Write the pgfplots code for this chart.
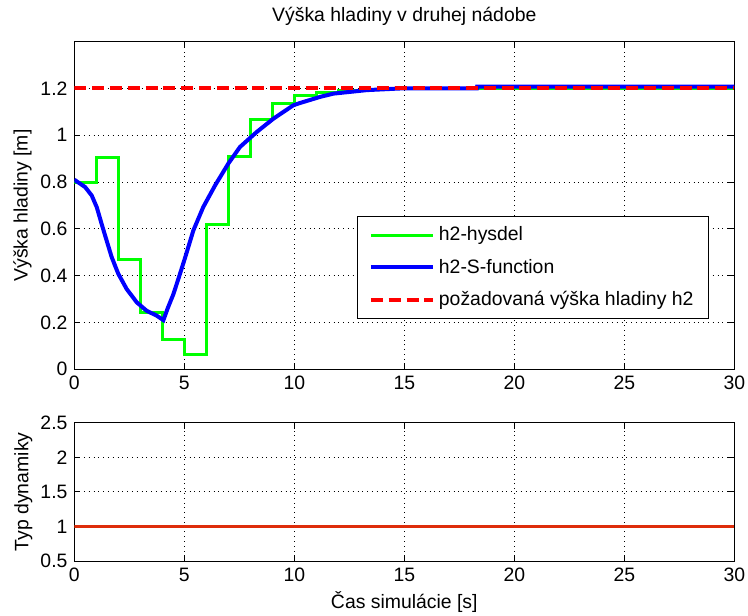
\documentclass[border=0pt]{standalone}
\usepackage{pgfplots}
\pgfplotsset{compat=1.18}
\usepackage{fontspec}
\setmainfont{Liberation Sans}
\definecolor{mgreen}{RGB}{0,255,0}
\definecolor{mblue}{RGB}{0,0,255}
\definecolor{mred}{RGB}{255,0,0}
\definecolor{morange}{RGB}{222,45,10}
\pgfplotsset{
  mystyle/.style={
    scale only axis,
    width=330pt,
    xmin=0, xmax=30,
    xtick={0,5,10,15,20,25,30},
    tick align=inside,
    major tick length=3pt,
    grid=major,
    major grid style={black, dotted, line width=0.5pt},
    axis line style={black, line width=0.5pt},
    every tick/.style={black, line width=0.5pt},
    /pgf/number format/assume math mode=true,
    tick label style={font=\fontsize{9.7}{11.6}\selectfont},
    label style={font=\fontsize{9.7}{11.6}\selectfont},
  }
}
\begin{document}
\fontsize{9.7}{11.6}\selectfont
\begin{tikzpicture}
\path[use as bounding box] (0pt,0pt) rectangle (374pt,307.5pt);
\begin{axis}[
  mystyle,
  at={(37.15pt,122.85pt)}, anchor=south west,
  height=163.8pt,
  ymin=0, ymax=1.4,
  ytick={0,0.2,0.4,0.6,0.8,1,1.2},
  yticklabels={0,0.2,0.4,0.6,0.8,1,1.2},
  xticklabels={0,5,10,15,20,25,30},
  title={Výška hladiny v druhej nádobe},
  title style={at={(axis description cs:0.5,1)}, anchor=center, yshift=6.9pt, font=\fontsize{9.7}{11.6}\selectfont},
  ylabel={Výška hladiny [m]},
  ylabel style={at={(axis description cs:-0.0785,0.5)}, anchor=center, rotate=0},
  legend style={at={(axis description cs:0.429,0.467)}, anchor=north west,
    draw=black, line width=0.5pt, fill=white,
    font=\fontsize{9.7}{11.6}\selectfont,
    inner xsep=5.5pt, inner ysep=3pt, row sep=3.6pt},
  legend cell align=left,
  legend image code/.code={\draw[#1] (0pt,0pt) -- (31pt,0pt);},
]
\addplot[mgreen, line width=1.5pt, const plot] coordinates {
(0,0.800) (1,0.903) (2,0.469) (3,0.243) (4,0.126) (5,0.065) (6,0.617)
(7,0.911) (8,1.067) (9,1.138) (10,1.168) (11,1.183) (12,1.190) (13,1.195)
(14,1.199) (15,1.201) (16,1.201) (17,1.201) (18,1.201) (19,1.201) (20,1.201)
(21,1.201) (22,1.201) (23,1.201) (24,1.201) (25,1.201) (26,1.201) (27,1.201)
(28,1.201) (29,1.201) (30,1.201)};
\addlegendentry{h2-hysdel}
\addplot[mblue, line width=2pt] coordinates {
(0,0.810) (0.49,0.779) (0.79,0.743) (1.02,0.693) (1.24,0.622) (1.47,0.550)
(1.70,0.479) (2.00,0.408) (2.38,0.343) (2.84,0.286) (3.29,0.250) (3.75,0.229)
(4.05,0.210) (4.25,0.262) (4.50,0.320) (4.75,0.392) (5.03,0.475) (5.41,0.593)
(5.86,0.693) (6.40,0.786) (7.00,0.879) (7.53,0.950) (8.29,1.014) (9.05,1.071)
(9.95,1.128) (10.26,1.138) (11.17,1.164) (11.77,1.178) (13.29,1.193) (14.80,1.200)
(18.30,1.201) (18.31,1.208) (30,1.208)};
\addlegendentry{h2-S-function}
\addplot[mred, line width=2pt, dash pattern=on 6pt off 2.9pt] coordinates {(0,1.2) (30,1.2)};
\addlegendentry{požadovaná výška hladiny h2}
\end{axis}
\begin{axis}[
  mystyle,
  at={(37.15pt,27pt)}, anchor=south west,
  height=69.15pt,
  ymin=0.5, ymax=2.5,
  ytick={0.5,1,1.5,2,2.5},
  yticklabels={0.5,1,1.5,2,2.5},
  xticklabels={0,5,10,15,20,25,30},
  ylabel={Typ dynamiky},
  ylabel style={at={(axis description cs:-0.0772,0.5)}, anchor=center},
  xlabel={Čas simulácie [s]},
  xlabel style={at={(axis description cs:0.5,0)}, anchor=center, yshift=-20.5pt},
]
\addplot[morange, line width=1.75pt] coordinates {(0,1) (30,1)};
\end{axis}
\end{tikzpicture}
\end{document}
